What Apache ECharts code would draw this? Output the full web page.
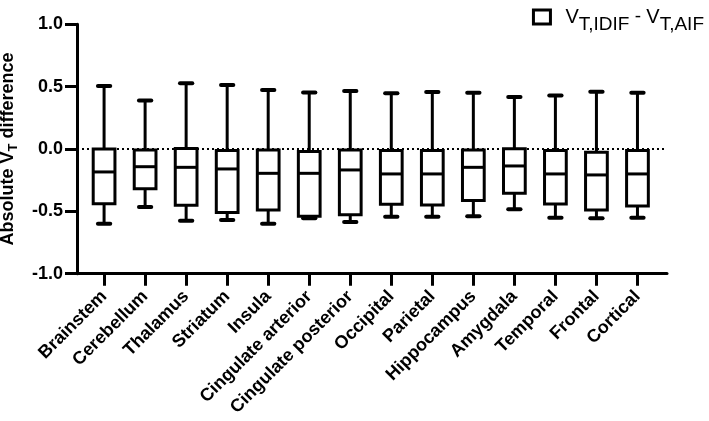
<!DOCTYPE html>
<html><head><meta charset="utf-8">
<script src="https://cdn.jsdelivr.net/npm/echarts@6/dist/echarts.min.js"></script>
<style>html,body{margin:0;padding:0;background:#fff}#c{width:709px;height:421px}</style>
</head><body><div id="c"></div>
<script>
const categories = ['Brainstem','Cerebellum','Thalamus','Striatum','Insula','Cingulate arterior','Cingulate posterior','Occipital','Parietal','Hippocampus','Amygdala','Temporal','Frontal','Cortical'];
const minValues    = [-0.60, -0.465, -0.575, -0.57, -0.60, -0.555, -0.585, -0.543, -0.543, -0.54, -0.484, -0.551, -0.556, -0.551];
const q1Values     = [-0.44, -0.318, -0.452, -0.51, -0.49, -0.540, -0.527, -0.444, -0.449, -0.413, -0.355, -0.441, -0.489, -0.457];
const medianValues = [-0.184, -0.142, -0.147, -0.160, -0.195, -0.195, -0.168, -0.200, -0.200, -0.147, -0.136, -0.200, -0.208, -0.200];
const q3Values     = [0.0, -0.008, 0.005, -0.013, -0.008, -0.02, -0.008, -0.013, -0.013, -0.008, 0.003, -0.013, -0.027, -0.013];
const maxValues    = [0.505, 0.388, 0.527, 0.513, 0.473, 0.454, 0.465, 0.447, 0.457, 0.452, 0.417, 0.430, 0.460, 0.452];
const yTickLabels  = ['-1.0','-0.5','0.0','0.5','1.0'];
const seriesName = 'VT,IDIF - VT,AIF';

const FONT = '"Liberation Sans", Arial, sans-serif';
const boxData = categories.map((c, i) => [i, minValues[i], q1Values[i], medianValues[i], q3Values[i], maxValues[i]]);
const catIdx = categories.map((c, i) => i);

function renderItem(params, api) {
  const i = api.value(0);
  const band = api.size([1, 0])[0];
  const boxW = band * 0.53;
  const capW = band * 0.30;
  const pMin = api.coord([i, api.value(1)]);
  const pQ1 = api.coord([i, api.value(2)]);
  const pMed = api.coord([i, api.value(3)]);
  const pQ3 = api.coord([i, api.value(4)]);
  const pMax = api.coord([i, api.value(5)]);
  const x = pMed[0];
  const ls = {stroke: '#000', lineWidth: 3, fill: 'none'};
  const cs = {stroke: '#000', lineWidth: 4, lineCap: 'round', fill: 'none'};
  return {type: 'group', children: [
    {type: 'line', shape: {x1: x, y1: pMax[1], x2: x, y2: pQ3[1]}, style: ls},
    {type: 'line', shape: {x1: x, y1: pQ1[1], x2: x, y2: pMin[1]}, style: ls},
    {type: 'line', shape: {x1: x - capW / 2, y1: pMax[1], x2: x + capW / 2, y2: pMax[1]}, style: cs},
    {type: 'line', shape: {x1: x - capW / 2, y1: pMin[1], x2: x + capW / 2, y2: pMin[1]}, style: cs},
    {type: 'rect', shape: {x: x - boxW / 2, y: pQ3[1], width: boxW, height: pQ1[1] - pQ3[1]}, style: {stroke: '#000', lineWidth: 3, fill: '#fff'}},
    {type: 'line', shape: {x1: x - boxW / 2, y1: pMed[1], x2: x + boxW / 2, y2: pMed[1]}, style: ls}
  ]};
}

const chart = echarts.init(document.getElementById('c'), null, {renderer: 'canvas'});
chart.setOption({
  animation: false,
  backgroundColor: '#fff',
  textStyle: {fontFamily: FONT},
  grid: {left: 77, right: 42, top: 24.3, bottom: 147.3, containLabel: false, outerBoundsMode: 'none'},
  legend: {
    right: 0, top: 2,
    data: [seriesName],
    icon: 'rect', itemWidth: 17, itemHeight: 14,
    itemStyle: {color: '#fff', borderColor: '#000', borderWidth: 3},
    formatter: function () { return '{p|V}{s|T,IDIF}{m| - }{v|V}{s|T,AIF}'; },
    textStyle: {
      color: '#000', fontFamily: FONT,
      rich: {
        p: {fontSize: 20, color: '#000', fontFamily: FONT, padding: [0, 0, 0, 10]},
        v: {fontSize: 20, color: '#000', fontFamily: FONT},
        m: {fontSize: 19, color: '#000', fontFamily: FONT},
        s: {fontSize: 19, color: '#000', fontFamily: FONT, padding: [16, 0, 0, 0]}
      }
    }
  },
  xAxis: {
    type: 'value', min: -0.66, max: 13.72,
    splitLine: {show: false},
    axisLine: {show: true, onZero: false, lineStyle: {color: '#000', width: 3}},
    axisTick: {show: true, length: 12, customValues: catIdx, lineStyle: {color: '#000', width: 3}},
    axisLabel: {
      customValues: catIdx, rotate: 45, margin: 20,
      formatter: v => categories[Math.round(v)],
      color: '#000', fontSize: 18, fontWeight: 'bold', fontFamily: FONT
    }
  },
  yAxis: {
    type: 'value', min: -1, max: 1, interval: 0.5,
    splitLine: {show: false},
    axisLine: {show: true, onZero: false, lineStyle: {color: '#000', width: 3}},
    axisTick: {show: true, length: 12, lineStyle: {color: '#000', width: 3}},
    axisLabel: {
      margin: 14, color: '#000', fontSize: 18, fontWeight: 'bold', fontFamily: FONT,
      formatter: v => yTickLabels[Math.round((v + 1) / 0.5)]
    },
    name: '{a|Absolute V}{s|T}{a| difference}',
    nameLocation: 'middle', nameGap: 57,
    nameTextStyle: {
      rich: {
        a: {fontSize: 18, fontWeight: 'bold', color: '#000', fontFamily: FONT},
        s: {fontSize: 13, fontWeight: 'bold', color: '#000', fontFamily: FONT, padding: [10, 0, 0, 0]}
      }
    }
  },
  series: [{
    name: seriesName,
    type: 'custom',
    renderItem: renderItem,
    encode: {x: 0, y: [1, 2, 3, 4, 5]},
    data: boxData,
    itemStyle: {color: '#fff', borderColor: '#000', borderWidth: 3},
    markLine: {
      silent: true, symbol: 'none', z: 1,
      label: {show: false},
      lineStyle: {type: [2, 3], color: '#000', width: 2},
      data: [{yAxis: 0}]
    }
  }]
});
</script></body></html>
